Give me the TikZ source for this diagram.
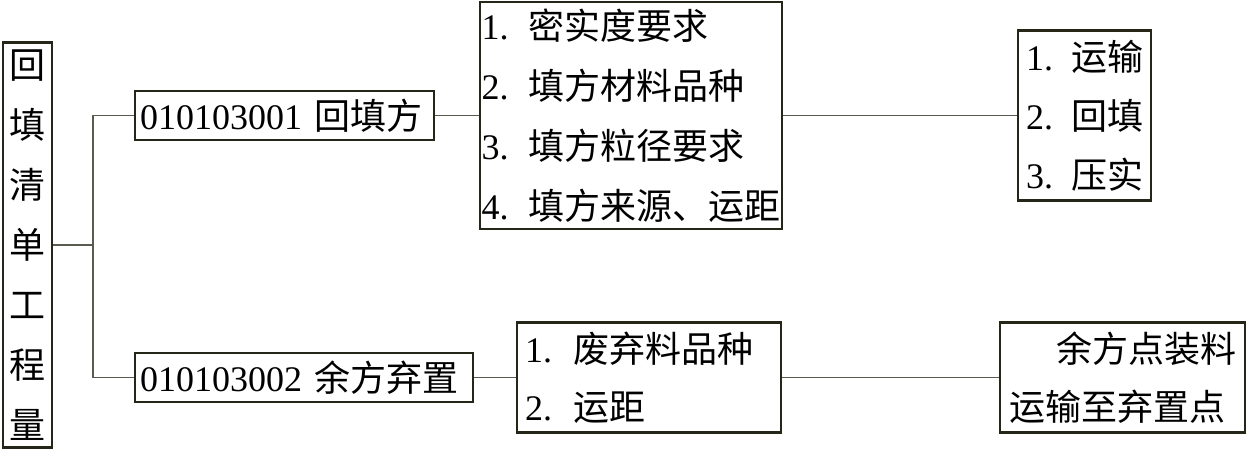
\documentclass[tikz,border=0pt]{standalone}
\usepackage{fontspec}
\setmainfont{Liberation Serif}
\newfontfamily\cjk{Noto Sans CJK SC}
\definecolor{boxline}{HTML}{262618}
\definecolor{connline}{HTML}{5a5a50}
\begin{document}
\begin{tikzpicture}[x=1pt,y=-1pt,
  box/.style={draw=boxline,line width=2.8pt,inner sep=0pt,fill=white,
    font=\fontsize{36}{60}\selectfont},
  conn/.style={draw=connline,line width=1.3pt}]
\useasboundingbox (0,0) rectangle (1248,451);
% nodes
\node[box,minimum width=49pt,minimum height=405pt,align=center,
  font=\cjk\fontsize{36}{60}\selectfont] (root) at (27.5,245)
  {回\\填\\清\\单\\工\\程\\量};
\node[box,minimum width=299pt,minimum height=49pt,inner xsep=5pt,
  text width=289pt,align=left] (a) at (284.5,115.5)
  {010103001 {\cjk 回填方}};
\node[box,minimum width=302pt,minimum height=227pt,align=left,
  font=\fontsize{36}{60}\selectfont] (b) at (631,115.5)
  {1.\hspace{20pt}{\cjk 密实度要求}\\
   2.\hspace{20pt}{\cjk 填方材料品种}\\
   3.\hspace{20pt}{\cjk 填方粒径要求}\\
   4.\hspace{20pt}{\cjk 填方来源、运距}};
\node[box,minimum width=133pt,minimum height=170pt,align=left,
  font=\fontsize{36}{59}\selectfont] (c) at (1084.5,115.5)
  {1.\hspace{18pt}{\cjk 运输}\\
   2.\hspace{18pt}{\cjk 回填}\\
   3.\hspace{18pt}{\cjk 压实}};
\node[box,minimum width=338pt,minimum height=49pt,inner xsep=5pt,
  text width=328pt,align=left] (d) at (304,377.5)
  {010103002 {\cjk 余方弃置}};
\node[box,minimum width=264pt,minimum height=110pt,inner xsep=8pt,
  text width=248pt,align=left,
  font=\fontsize{36}{58}\selectfont] (e) at (649,377.5)
  {1.\hspace{21pt}{\cjk 废弃料品种}\\
   2.\hspace{21pt}{\cjk 运距}};
\node[box,minimum width=245pt,minimum height=110pt,align=left,
  font=\fontsize{36}{58}\selectfont] (f) at (1122.5,377.5)
  {\hspace{47pt}{\cjk 余方点装料}\\
   {\cjk 运输至弃置点}};
% connectors
\coordinate (j) at (93,245);
\draw[conn] (root.east) -- (j);
\draw[conn] (j) |- (a.west);
\draw[conn] (j) |- (d.west);
\draw[conn] (a.east) -- (b.west);
\draw[conn] (b.east) -- (c.west);
\draw[conn] (d.east) -- (e.west);
\draw[conn] (e.east) -- (f.west);
\end{tikzpicture}
\end{document}
